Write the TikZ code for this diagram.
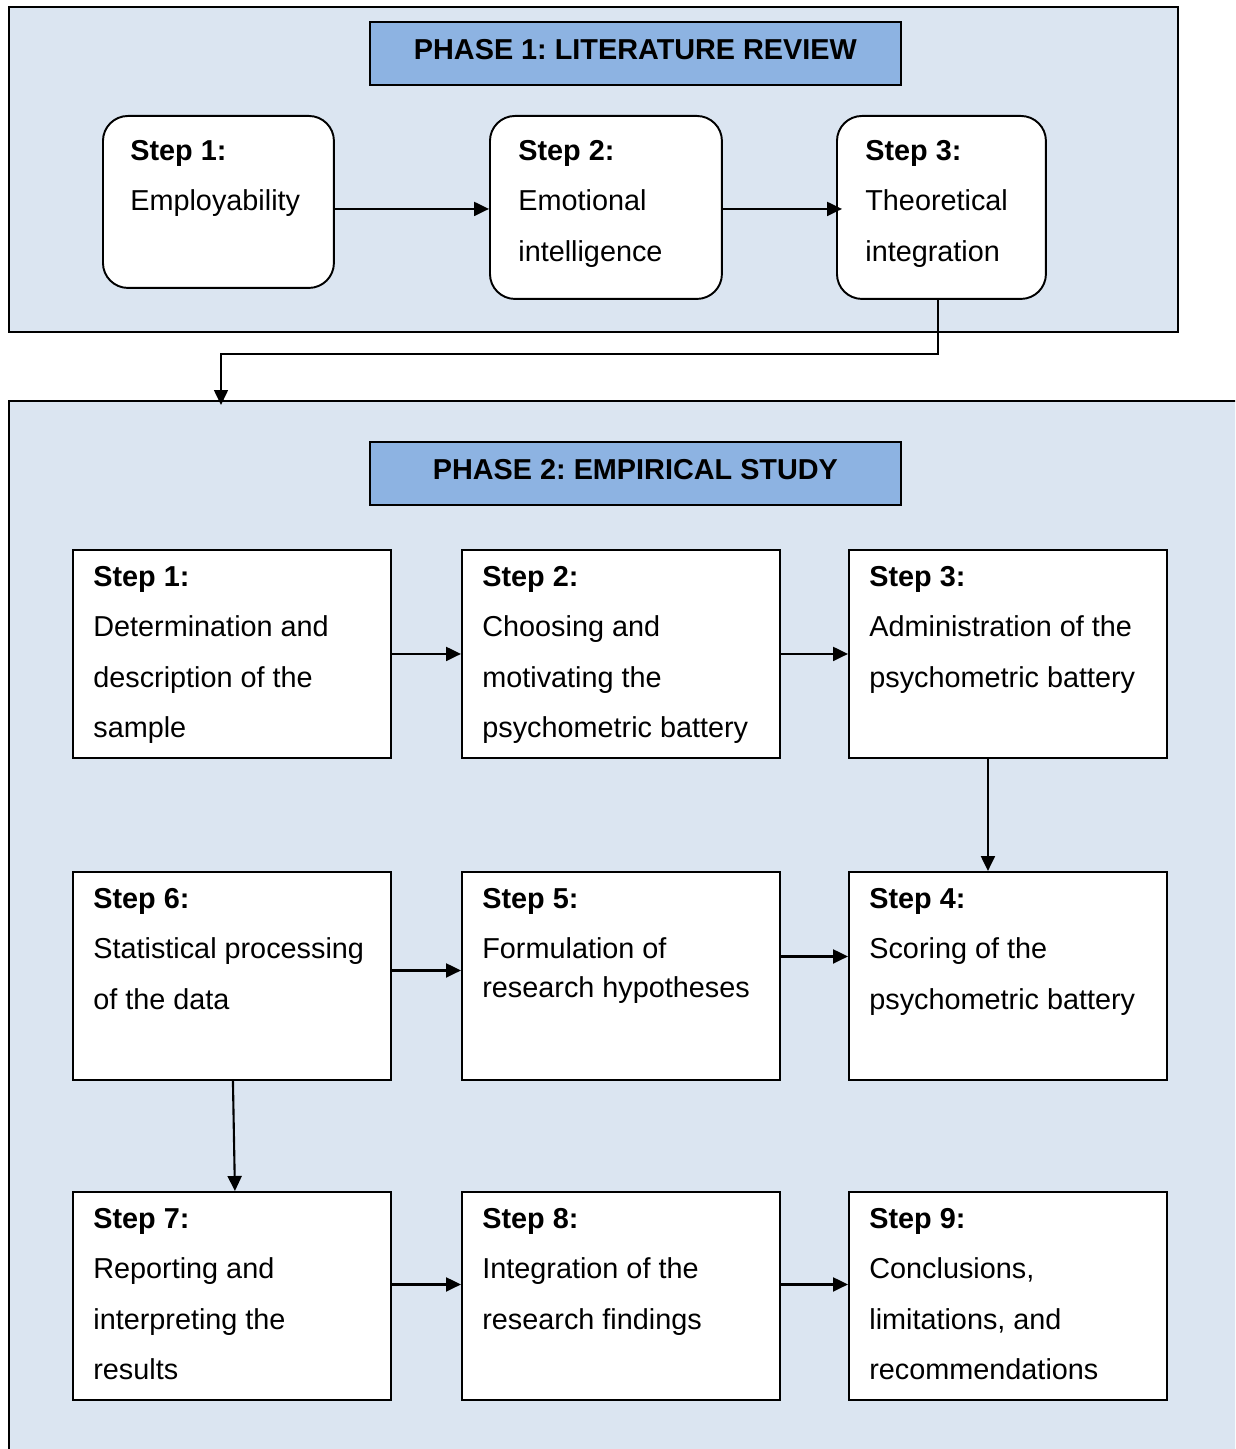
\documentclass[tikz,border=0pt]{standalone}
\usepackage{fontspec}
\setmainfont{Liberation Sans}
\usepackage{xcolor}
\usetikzlibrary{arrows.meta, positioning, calc}
\frenchspacing

\definecolor{panelblue}{HTML}{DBE5F1}
\definecolor{headblue}{HTML}{8DB3E2}

\tikzset{
  panel/.style={draw, line width=1.1pt, fill=panelblue, anchor=north west, inner sep=0pt},
  phasehead/.style={draw, line width=1.1pt, fill=headblue, anchor=north west,
    minimum width=10.62cm, minimum height=1.26cm, inner sep=0pt},
  headtext/.style={font=\bfseries\fontsize{16.4}{19}\selectfont, inner sep=0pt},
  litbox/.style={draw, line width=1.1pt, fill=white, rounded corners=0.5cm,
    anchor=north west, inner sep=0pt},
  empbox/.style={draw, line width=1.1pt, fill=white, anchor=north west,
    minimum width=6.36cm, minimum height=4.16cm, inner sep=0pt},
  boxtext/.style={font=\fontsize{16.4}{28.7}\selectfont, align=left,
    inner sep=0pt, anchor=north west},
  arr/.style={-{Triangle[length=0.3cm, width=0.28cm]}, line width=1.2pt},
}

\begin{document}
\begin{tikzpicture}[x=0.02cm, y=-0.02cm]
\useasboundingbox (0,0) rectangle (1235,1449);
\clip (0,0) rectangle (1235,1449);

% Phase 1 panel
\node[panel, minimum width=23.38cm, minimum height=6.5cm] (ph1) at (8,6) {};
\node[phasehead] (h1) at (369,21) {};
\node[headtext] (h1t) at ($(h1.center)+(0,-4)$) {PHASE 1: LITERATURE REVIEW};

% Literature steps
\node[litbox, minimum width=4.62cm, minimum height=3.44cm] (l1) at (102,115) {};
\node[litbox, minimum width=4.64cm, minimum height=3.66cm] (l2) at (489,115) {};
\node[litbox, minimum width=4.18cm, minimum height=3.66cm] (l3) at (836,115) {};
\node[boxtext] (l1t) at ($(l1.north west)+(28,25)$) {\textbf{Step 1:}\\Employability};
\node[boxtext] (l2t) at ($(l2.north west)+(29,25)$) {\textbf{Step 2:}\\Emotional\\intelligence};
\node[boxtext] (l3t) at ($(l3.north west)+(29,25)$) {\textbf{Step 3:}\\Theoretical\\integration};

\draw[arr] ([yshift=-0.14cm]l1.east) -- ([yshift=-0.14cm]l1.east -| l2.west);
\draw[arr] ([yshift=-0.14cm]l1.east -| l2.east) -- ([yshift=-0.14cm,xshift=0.12cm]l1.east -| l3.west);

% Phase 2 panel
\node[panel, minimum width=24.84cm, minimum height=21.4cm] (ph2) at (8,400) {};
\node[phasehead] (h2) at (369,441) {};
\node[headtext] (h2t) at ($(h2.center)+(0,-3.5)$) {PHASE 2: EMPIRICAL STUDY};

% link between the phases
\coordinate (p2in) at (221,405);
\draw[arr, line width=0.9pt] ([xshift=-0.07cm]l3.south) -- ++(0,54) -| (p2in);

% Empirical steps
\node[empbox] (e1) at (72,549) {};
\node[empbox] (e2) at (461,549) {};
\node[empbox] (e3) at (848,549) {};
\node[empbox] (e6) at (72,871) {};
\node[empbox] (e5) at (461,871) {};
\node[empbox] (e4) at (848,871) {};
\node[empbox] (e7) at (72,1191) {};
\node[empbox] (e8) at (461,1191) {};
\node[empbox] (e9) at (848,1191) {};

\node[boxtext] (e1t) at ($(e1.north west)+(21,17)$) {\textbf{Step 1:}\\Determination and\\description of the\\sample};
\node[boxtext] (e2t) at ($(e2.north west)+(21,17)$) {\textbf{Step 2:}\\Choosing and\\motivating the\\psychometric battery};
\node[boxtext] (e3t) at ($(e3.north west)+(21,17)$) {\textbf{Step 3:}\\Administration of the\\psychometric battery};
\node[boxtext] (e6t) at ($(e6.north west)+(21,17)$) {\textbf{Step 6:}\\Statistical processing\\of the data};
\node[boxtext] (e5t) at ($(e5.north west)+(21,17)$) {\textbf{Step 5:}\\Formulation of\\[-6.6pt]research hypotheses};
\node[boxtext] (e4t) at ($(e4.north west)+(21,17)$) {\textbf{Step 4:}\\Scoring of the\\psychometric battery};
\node[boxtext] (e7t) at ($(e7.north west)+(21,17)$) {\textbf{Step 7:}\\Reporting and\\interpreting the\\results};
\node[boxtext] (e8t) at ($(e8.north west)+(21,17)$) {\textbf{Step 8:}\\Integration of the\\research findings};
\node[boxtext] (e9t) at ($(e9.north west)+(21,17)$) {\textbf{Step 9:}\\Conclusions,\\limitations, and\\recommendations};

% Arrows
\draw[arr] (e1.east) -- (e2.west);
\draw[arr] (e2.east) -- (e3.west);
\draw[arr] ([xshift=-0.4cm]e3.south) -- ([xshift=-0.4cm]e3.south |- e4.north);
\draw[arr] ([yshift=0.11cm]e6.east) -- ([yshift=0.11cm]e6.east -| e5.west);
\draw[arr] ([yshift=0.39cm]e5.east) -- ([yshift=0.39cm]e5.east -| e4.west);
\draw[arr] ([xshift=0.02cm]e6.south) -- ([xshift=0.06cm]e7.north);
\draw[arr] ([yshift=0.23cm]e7.east) -- ([yshift=0.23cm]e7.east -| e8.west);
\draw[arr] ([yshift=0.23cm]e8.east) -- ([yshift=0.23cm]e8.east -| e9.west);
\end{tikzpicture}
\end{document}
